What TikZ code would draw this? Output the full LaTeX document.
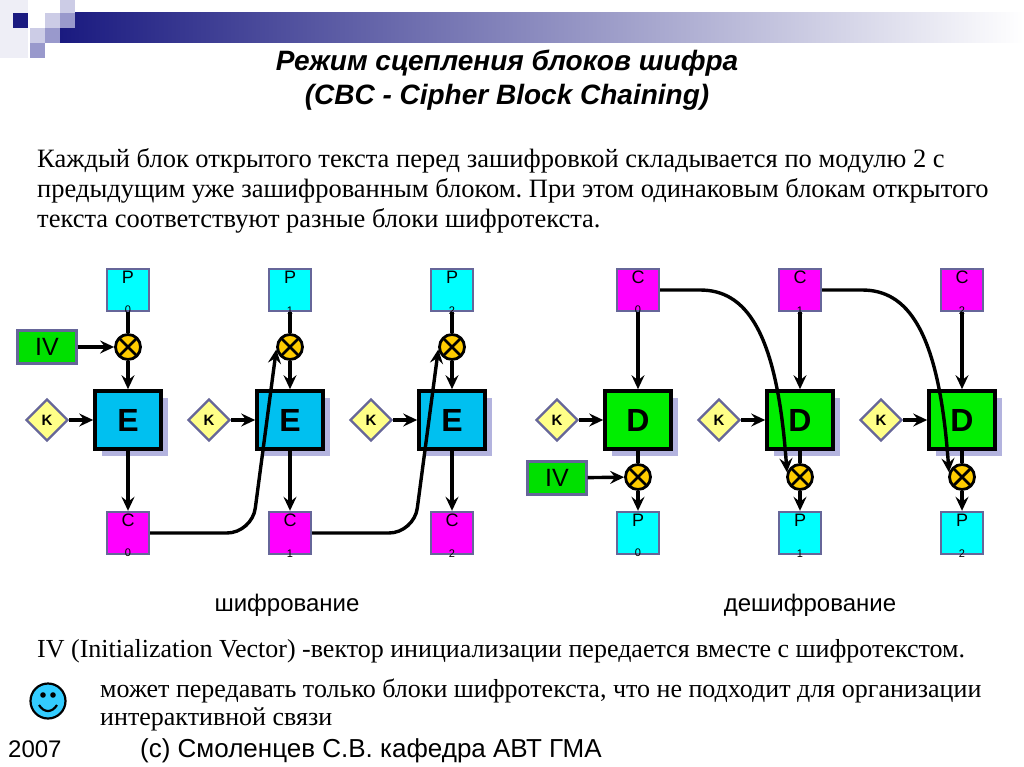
\documentclass[tikz,border=0pt]{standalone}
\usepackage{fontspec}
\setmainfont{Liberation Serif}
\setsansfont{Liberation Sans}
\usetikzlibrary{arrows.meta,shapes.geometric,shadows}
\frenchspacing

\definecolor{bordgray}{HTML}{666699}
\definecolor{pcyan}{HTML}{00FFFF}
\definecolor{cmag}{HTML}{FF00FF}
\definecolor{ivgreen}{HTML}{00E000}
\definecolor{eblue}{HTML}{00C0F0}
\definecolor{dgreen}{HTML}{00EE00}
\definecolor{keyyel}{HTML}{FFFF88}
\definecolor{xorgold}{HTML}{FFCC00}
\definecolor{navy}{HTML}{1A1A80}
\definecolor{lavlight}{HTML}{CCCCE6}
\definecolor{lavmid}{HTML}{9999CC}
\definecolor{lavpale}{HTML}{EEEEF6}
\definecolor{shadowc}{HTML}{8080C8}
\definecolor{smilec}{HTML}{33CCFF}

\tikzset{
  blk/.style={rectangle, draw=bordgray, line width=2.4pt, minimum size=42pt, inner sep=0pt},
  pblk/.style={blk, fill=pcyan},
  cblk/.style={blk, fill=cmag},
  toplbl/.style={anchor=north, inner sep=0pt, yshift=-3pt, font=\sffamily\fontsize{18}{18}\selectfont},
  sublbl/.style={anchor=south, inner sep=0pt, yshift=-2pt, font=\sffamily\fontsize{11}{11}\selectfont},
  ivblk/.style={rectangle, draw=bordgray, line width=2.4pt, fill=ivgreen, minimum width=59pt, minimum height=33pt, inner sep=0pt, font=\sffamily\fontsize{25}{25}\selectfont},
  cipher/.style={rectangle, draw=black, line width=3.6pt, minimum width=66pt, minimum height=58pt, inner sep=0pt,
    font=\sffamily\bfseries\fontsize{32}{32}\selectfont,
    drop shadow={shadow xshift=7pt, shadow yshift=-7pt, fill=shadowc, opacity=0.6}},
  enc/.style={cipher, fill=eblue},
  dec/.style={cipher, fill=dgreen},
  keyd/.style={diamond, draw=bordgray, line width=2.4pt, fill=keyyel, minimum size=42pt, inner sep=0pt,
    font=\sffamily\bfseries\fontsize{15}{15}\selectfont},
  xorc/.style={circle, draw=black, line width=2.8pt, fill=xorgold, minimum size=25pt, inner sep=0pt,
    path picture={\draw[line width=2.8pt] (path picture bounding box.north west) -- (path picture bounding box.south east)
      (path picture bounding box.north east) -- (path picture bounding box.south west);}},
  flow/.style={line width=3.4pt, -{Stealth[length=14pt,width=13pt,inset=5pt]}},
  link/.style={line width=3.4pt},
  bodytxt/.style={anchor=base west, inner sep=0pt, font=\fontsize{26.5}{30}\selectfont},
  notetxt/.style={anchor=base west, inner sep=0pt, font=\fontsize{26}{30}\selectfont},
  sanstxt/.style={inner sep=0pt, font=\sffamily\fontsize{24}{28}\selectfont}
}

\begin{document}
\begin{tikzpicture}[x=1pt, y=-1pt]

\useasboundingbox (0,0) rectangle (1024,767);

% Шапка слайда
\fill[lavpale] (0,0) rectangle (28,58);
\shade[left color=navy, right color=white] (60,13) rectangle (1024,43);
\fill[navy] (13,13) rectangle (28,28);
\fill[lavlight] (60,0) rectangle (75,13);
\fill[lavlight] (45,13) rectangle (60,28);
\fill[lavmid] (60,13) rectangle (75,28);
\fill[lavlight] (30,28) rectangle (45,43);
\fill[lavmid] (45,28) rectangle (60,43);
\fill[lavmid] (30,43) rectangle (45,58);

% Заголовок
\node[anchor=base, inner sep=0pt, font=\sffamily\bfseries\itshape\fontsize{28}{28}\selectfont] (title1) at (507,71) {Режим сцепления блоков шифра};
\node[anchor=base, inner sep=0pt, font=\sffamily\bfseries\itshape\fontsize{28}{28}\selectfont] (title2) at (507,105) {(CBC - Cipher Block Chaining)};

% Пояснение
\node[bodytxt] (txt1) at (37,168) {Каждый блок открытого текста перед зашифровкой складывается по модулю 2 с};
\node[bodytxt] (txt2) at (37,198) {предыдущим уже зашифрованным блоком. При этом одинаковым блокам открытого};
\node[bodytxt] (txt3) at (37,228) {текста соответствуют разные блоки шифротекста.};

% Шифрование
\node[pblk, label={[toplbl]north:P}, label={[sublbl]south:0}] (ep0) at (128,290) {};
\node[pblk, label={[toplbl]north:P}, label={[sublbl]south:1}] (ep1) at (290,290) {};
\node[pblk, label={[toplbl]north:P}, label={[sublbl]south:2}] (ep2) at (452,290) {};
\node[xorc] (ex0) at (128,347) {};
\node[xorc] (ex1) at (290,347) {};
\node[xorc] (ex2) at (452,347) {};
\node[ivblk] (eiv) at (47,347) {IV};
\node[enc] (e0) at (128,420) {E};
\node[enc] (e1) at (290,420) {E};
\node[enc] (e2) at (452,420) {E};
\node[keyd] (ek0) at (47,420) {K};
\node[keyd] (ek1) at (209,420) {K};
\node[keyd] (ek2) at (371,420) {K};
\node[cblk, label={[toplbl]north:C}, label={[sublbl]south:0}] (ec0) at (128,533) {};
\node[cblk, label={[toplbl]north:C}, label={[sublbl]south:1}] (ec1) at (290,533) {};
\node[cblk, label={[toplbl]north:C}, label={[sublbl]south:2}] (ec2) at (452,533) {};
\coordinate (ebend0) at (252,533);
\coordinate (ebend1) at (414,533);

\draw[link] (ep0) -- (ex0);
\draw[link] (ep1) -- (ex1);
\draw[link] (ep2) -- (ex2);
\draw[flow] (eiv) -- (ex0);
\draw[flow] (ex0) -- (e0);
\draw[flow] (ex1) -- (e1);
\draw[flow] (ex2) -- (e2);
\draw[flow] (ek0) -- (e0);
\draw[flow] (ek1) -- (e1);
\draw[flow] (ek2) -- (e2);
\draw[flow] (e0) -- (ec0);
\draw[flow] (e1) -- (ec1);
\draw[flow] (e2) -- (ec2);
\draw[flow, rounded corners=25pt] (ec0.east) -- (ebend0) -- (ex1.190);
\draw[flow, rounded corners=25pt] (ec1.east) -- (ebend1) -- (ex2.190);

% Дешифрование
\node[cblk, label={[toplbl]north:C}, label={[sublbl]south:0}] (dc0) at (638,290) {};
\node[cblk, label={[toplbl]north:C}, label={[sublbl]south:1}] (dc1) at (800,290) {};
\node[cblk, label={[toplbl]north:C}, label={[sublbl]south:2}] (dc2) at (962,290) {};
\node[dec] (d0) at (638,420) {D};
\node[dec] (d1) at (800,420) {D};
\node[dec] (d2) at (962,420) {D};
\node[keyd] (dk0) at (557,420) {K};
\node[keyd] (dk1) at (719,420) {K};
\node[keyd] (dk2) at (881,420) {K};
\node[xorc] (dx0) at (638,477) {};
\node[xorc] (dx1) at (800,477) {};
\node[xorc] (dx2) at (962,477) {};
\node[ivblk] (div) at (557,478) {IV};
\node[pblk, label={[toplbl]north:P}, label={[sublbl]south:0}] (dp0) at (638,533) {};
\node[pblk, label={[toplbl]north:P}, label={[sublbl]south:1}] (dp1) at (800,533) {};
\node[pblk, label={[toplbl]north:P}, label={[sublbl]south:2}] (dp2) at (962,533) {};
\coordinate (dbend0) at (700,290);
\coordinate (dbend1) at (862,290);

\draw[flow] (dc0) -- (d0);
\draw[flow] (dc1) -- (d1);
\draw[flow] (dc2) -- (d2);
\draw[flow] (dk0) -- (d0);
\draw[flow] (dk1) -- (d1);
\draw[flow] (dk2) -- (d2);
\draw[link] (d0) -- (dx0);
\draw[link] (d1) -- (dx1);
\draw[link] (d2) -- (dx2);
\draw[flow] (div) -- (dx0);
\draw[flow] (dx0) -- (dp0);
\draw[flow] (dx1) -- (dp1);
\draw[flow] (dx2) -- (dp2);
\draw[flow] (dc0.east) -- (dbend0) .. controls +(45,0) and +(-10,-143) .. (dx1.160);
\draw[flow] (dc1.east) -- (dbend1) .. controls +(45,0) and +(-10,-143) .. (dx2.160);

% Подписи схем
\node[sanstxt, anchor=base] (enclbl) at (287,611) {шифрование};
\node[sanstxt, anchor=base] (declbl) at (810,611) {дешифрование};

% Нижний текст
\node[notetxt] (note1) at (37,657) {IV (Initialization Vector) -вектор инициализации передается вместе с шифротекстом.};
\node[notetxt] (note2) at (100,697) {может передавать только блоки шифротекста, что не подходит для организации};
\node[notetxt] (note3) at (100,725) {интерактивной связи};

% Смайлик
\filldraw[fill=smilec, draw=black, line width=2.2pt] (48,701) circle (17.5);
\fill (43,695) circle (2.8);
\fill (53,695) circle (2.8);
\draw[line width=2.2pt] (39,705) .. controls (44,713) and (52,713) .. (57,705);

% Подвал
\node[sanstxt, anchor=base west] (year) at (8,757) {2007};
\node[sanstxt, anchor=base west, font=\sffamily\fontsize{26}{28}\selectfont] (author) at (140,757) {(с) Смоленцев С.В. кафедра АВТ ГМА};

\end{tikzpicture}
\end{document}
